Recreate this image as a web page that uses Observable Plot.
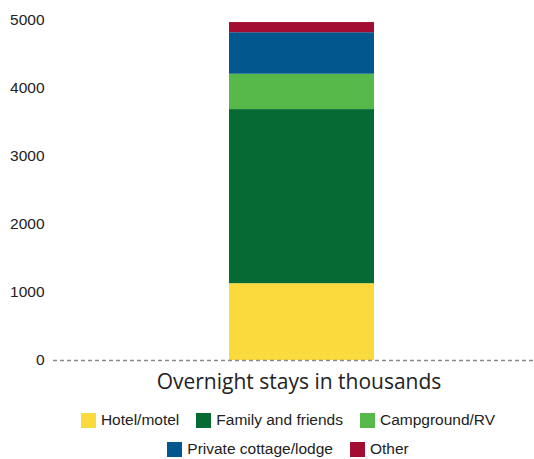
<!DOCTYPE html>
<html>
<head>
<meta charset="utf-8">
<script src="https://cdn.jsdelivr.net/npm/d3@7"></script>
<script src="https://cdn.jsdelivr.net/npm/@observablehq/plot@0.6"></script>
<style>
  body { margin: 0; background: #fff; width: 534px; overflow: hidden; }
  #title { font-family: "Open Sans", "Noto Sans", sans-serif; font-size: 21px; color: #222;
           text-align: center; padding-left: 64px; margin-top: 0px; line-height: 26px; }
  #legend { display: flex; flex-wrap: wrap; justify-content: center; column-gap: 17px; row-gap: 11px;
            padding-left: 42px; margin-top: 17px; font-family: "Liberation Sans", Arial, sans-serif;
            font-size: 15.5px; color: #222; }
  .item { display: flex; align-items: center; }
  .sw { width: 15px; height: 15px; margin-right: 5px; display: inline-block; }
</style>
</head>
<body>
<div id="chart"></div>
<div id="title"></div>
<div id="legend"></div>
<script>
const group = "Overnight stays in thousands";
const categories = ["Hotel/motel", "Family and friends", "Campground/RV", "Private cottage/lodge", "Other"];
const values = [1130, 2560, 520, 610, 150];
const colors = ["#FADA3C", "#066A35", "#57B94A", "#02578E", "#A30D32"];
const yTicks = [0, 1000, 2000, 3000, 4000, 5000];

const data = categories.map((c, i) => ({group, type: c, value: values[i]}));

const chart = Plot.plot({
  width: 534,
  height: 368,
  marginTop: 20,
  marginBottom: 8,
  marginLeft: 53,
  marginRight: 0,
  style: {fontSize: "15.5px", fontFamily: "'Liberation Sans', Arial, sans-serif", color: "#222", background: "transparent"},
  x: {domain: [group], range: [53, 550], padding: 0, axis: null},
  y: {domain: [0, 5000], ticks: yTicks, label: null},
  color: {domain: categories, range: colors},
  marks: [
    Plot.axisY(yTicks, {tickSize: 0, tickPadding: 9, tickFormat: d3.format("d"), label: null, fill: "#222"}),
    Plot.barY(data, {x: "group", y: "value", fill: "type", insetLeft: 176, insetRight: 176}),
    Plot.ruleY([0], {stroke: "#888", strokeWidth: 1.5, strokeDasharray: "4,3"})
  ]
});
document.getElementById("chart").appendChild(chart);
document.getElementById("title").textContent = group;

const legend = document.getElementById("legend");
categories.forEach((c, i) => {
  const it = document.createElement("div");
  it.className = "item";
  const sw = document.createElement("span");
  sw.className = "sw";
  sw.style.background = colors[i];
  const t = document.createElement("span");
  t.textContent = c;
  it.appendChild(sw);
  it.appendChild(t);
  legend.appendChild(it);
});
</script>
</body>
</html>
